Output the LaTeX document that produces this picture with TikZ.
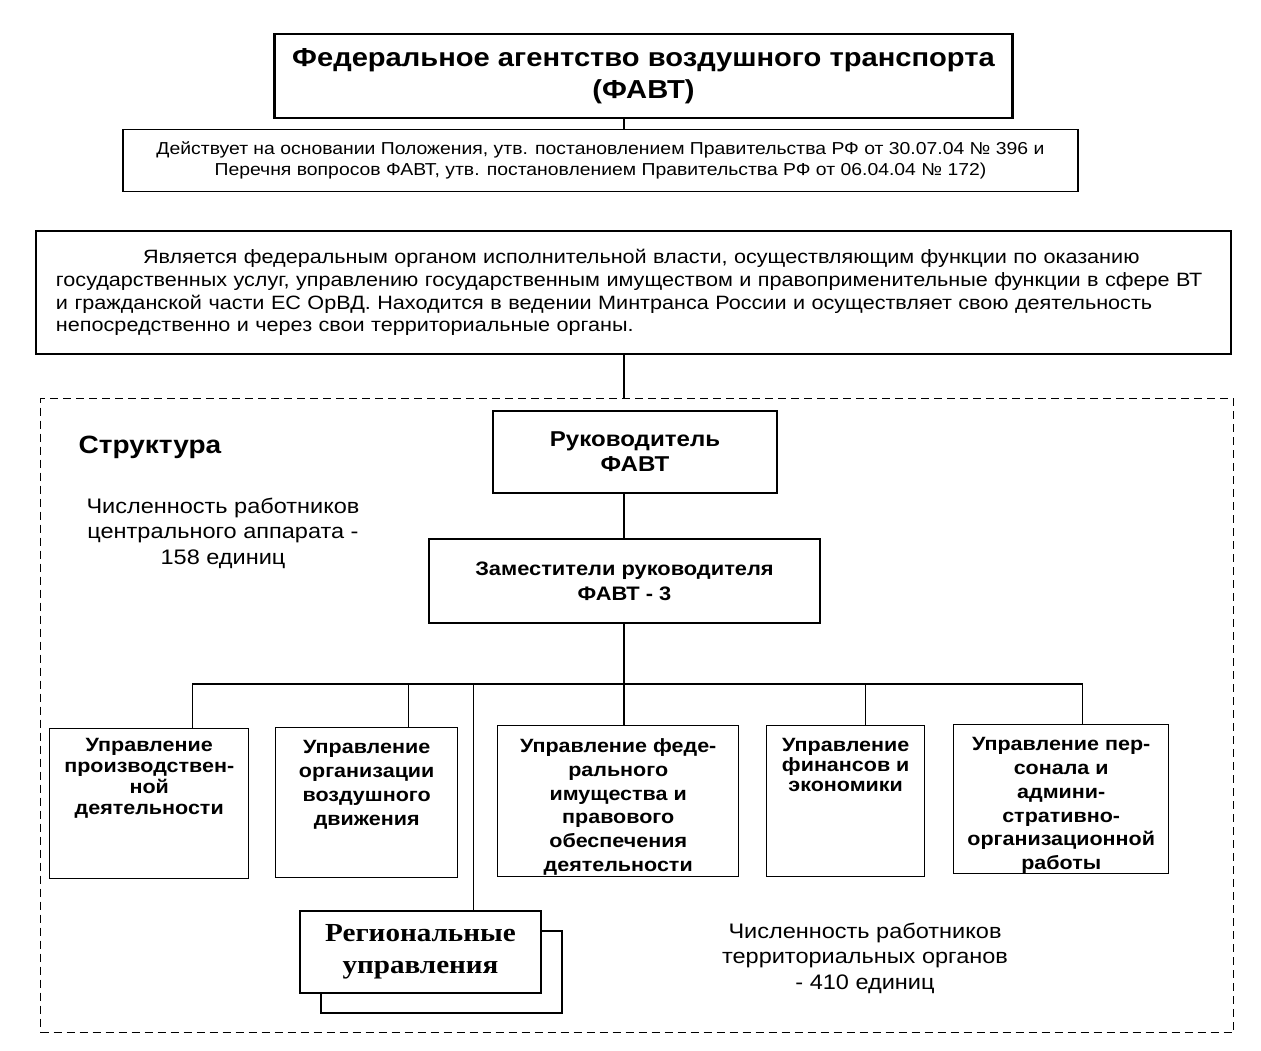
\documentclass[tikz,border=0pt]{standalone}
\usepackage{fontspec}
\setmainfont{Liberation Sans}[FakeStretch=1.12]
\newfontfamily\timesfont{Liberation Serif}[FakeStretch=1.12]
\usetikzlibrary{positioning,shadows}
\newcommand{\fsz}[2]{\fontsize{#1}{#2}\selectfont}
\newcommand{\topbox}[3]{\parbox[t][#2][t]{#1}{\centering #3}}

\begin{document}
\begin{tikzpicture}[
  x=1pt, y=-1pt,
  line width=1.4pt,
  box/.style={draw, fill=white, inner sep=0pt, align=center},
  dept/.style={box, anchor=north west, inner xsep=3pt, inner ysep=13pt,
    font=\bfseries\fsz{19.2}{23.7}},
  dashframe/.style={draw, dash pattern=on 8pt off 5pt, line width=1.2pt,
    inner sep=0pt, anchor=north west}]
  \useasboundingbox (0,0) rectangle (1261,1050);
  \coordinate (spine) at (624,0);
  \coordinate (bus) at (624,684);

  \node[box, line width=2.2pt, minimum width=738, minimum height=84,
    font=\bfseries\fsz{26}{32}] (favt) at (643.5,76)
    {Федеральное агентство воздушного транспорта\\(ФАВТ)};
  \node[box, minimum width=955, minimum height=62, font=\fsz{17.3}{21}] (basis) at (600.5,160.5)
    {Действует на основании Положения, утв. постановлением Правительства РФ от 30.07.04 № 396 и\\
     Перечня вопросов ФАВТ, утв. постановлением Правительства РФ от 06.04.04 № 172)};
  \node[box, align=left, text width=1155pt, minimum width=1195, minimum height=123,
    font=\fsz{19.3}{22.8}] (status) at (633.5,292.5)
    {\hspace*{87pt}Является федеральным органом исполнительной власти, осуществляющим функции по оказанию\\
     государственных услуг, управлению государственным имуществом и правоприменительные функции в сфере ВТ\\
     и гражданской части ЕС ОрВД. Находится в ведении Минтранса России и осуществляет свою деятельность\\
     непосредственно и через свои территориальные органы.};
  \node[dashframe, minimum width=1193, minimum height=634] (structure) at (40,398) {};

  \node[font=\bfseries\fsz{25}{30}, inner sep=0pt, anchor=west] (title) at (78,447) {Структура};
  \node[align=center, inner sep=0pt, font=\fsz{21}{25.5}] (central) at (223,533)
    {Численность работников\\центрального аппарата -\\158 единиц};
  \node[align=center, inner sep=0pt, font=\fsz{21}{25.5}] (territorial) at (865,958)
    {Численность работников\\территориальных органов\\- 410 единиц};

  \node[box, minimum width=284, minimum height=82, font=\bfseries\fsz{21.5}{25}] (head) at (635,452)
    {Руководитель\\ФАВТ};
  \node[box, minimum width=391, minimum height=84, font=\bfseries\fsz{19.5}{25}] (deputy) at (624.5,581)
    {Заместители руководителя\\ФАВТ - 3};

  \node[dept, inner ysep=10pt, font=\bfseries\fsz{19.2}{21}] (prod) at (49,728)
    {\topbox{193pt}{130pt}{Управление\\производствен-\\ной\\деятельности}};
  \node[dept] (atc) at (275,727)
    {\topbox{176pt}{124pt}{Управление\\организации\\воздушного\\движения}};
  \node[dept] (prop) at (497,725)
    {\topbox{235pt}{125pt}{Управление феде-\\рального\\имущества и\\правового\\обеспечения\\деятельности}};
  \node[dept, font=\bfseries\fsz{19.2}{20}] (fin) at (766,725)
    {\topbox{152pt}{125pt}{Управление\\финансов и\\экономики}};
  \node[dept] (pers) at (953,724)
    {\topbox{209pt}{123pt}{Управление пер-\\сонала и\\админи-\\стративно-\\организационной\\работы}};

  \node[box, minimum width=241, minimum height=82, font=\timesfont\bfseries\fsz{26}{32},
    copy shadow={shadow xshift=21pt, shadow yshift=-20pt}] (reg) at (420.5,952)
    {Региональные\\управления};

  \draw (favt.south -| spine) -- (basis.north -| spine);
  \draw (status.south -| spine) -- (structure.north -| spine);
  \draw (head.south -| spine) -- (deputy.north -| spine);
  \draw (deputy.south -| spine) -- (prop.north -| spine);
  \draw ([xshift=43pt]prod.north) |- (bus) -| ([xshift=21pt]pers.north);
  \draw ([xshift=42pt]atc.north) -- ([xshift=42pt]atc.north |- bus);
  \draw ([xshift=20pt]fin.north) -- ([xshift=20pt]fin.north |- bus);
  \draw ([xshift=53pt]reg.north) -- ([xshift=53pt]reg.north |- bus);
\end{tikzpicture}
\end{document}
